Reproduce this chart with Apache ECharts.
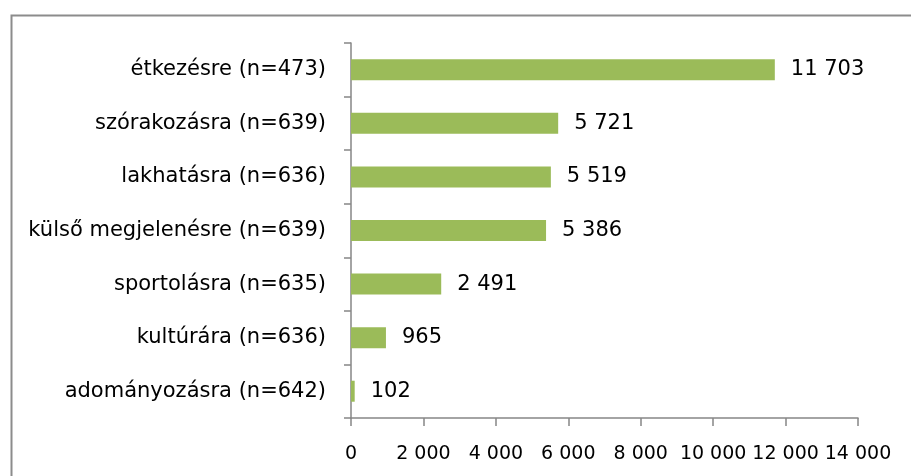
<!DOCTYPE html>
<html>
<head>
<meta charset="utf-8">
<script src="https://cdn.jsdelivr.net/npm/echarts@6/dist/echarts.min.js"></script>
<style>
	html, body { margin: 0; padding: 0; background: #fff; }
	#chart { width: 911px; height: 476px; }
</style>
</head>
<body>
<div id="chart"></div>
<script>
	'use strict';

	// kategóriák felülről lefelé
	var categories = [
		'étkezésre (n=473)',
		'szórakozásra (n=639)',
		'lakhatásra (n=636)',
		'külső megjelenésre (n=639)',
		'sportolásra (n=635)',
		'kultúrára (n=636)',
		'adományozásra (n=642)'
	];
	var values = [11703, 5721, 5519, 5386, 2491, 965, 102];
	var xTicks = [0, 2000, 4000, 6000, 8000, 10000, 12000, 14000];

	function fmt(v){
		return String(v).replace(/\B(?=(\d{3})+(?!\d))/g, ' ');
	}

	var font = 'DejaVu Sans';
	var axisColor = '#868686';

	var chart = echarts.init(document.getElementById('chart'), null, {renderer: 'canvas'});
	chart.setOption({
		animation: false,
		backgroundColor: '#fff',
		textStyle: {fontFamily: font},
		grid: {left: 351, right: 53, top: 43, bottom: 58, containLabel: false},
		graphic: [{
			type: 'rect',
			left: 9, top: 13,
			shape: {width: 940, height: 500},
			style: {fill: 'none', stroke: '#8c8c8c', lineWidth: 2},
			silent: true
		}],
		xAxis: {
			type: 'value',
			min: xTicks[0],
			max: xTicks[xTicks.length - 1],
			interval: xTicks[1] - xTicks[0],
			axisLine: {show: true, lineStyle: {color: axisColor, width: 1.5}},
			axisTick: {show: true, length: 8, lineStyle: {color: axisColor, width: 1.5}},
			splitLine: {show: false},
			axisLabel: {
				margin: 27,
				color: '#000',
				fontFamily: font,
				fontSize: 19,
				formatter: fmt
			}
		},
		yAxis: {
			type: 'category',
			data: categories,
			inverse: true,
			axisLine: {show: true, lineStyle: {color: axisColor, width: 1.5}},
			axisTick: {show: true, length: 7, lineStyle: {color: axisColor, width: 1.5}},
			axisLabel: {
				margin: 25,
				color: '#000',
				fontFamily: font,
				fontSize: 21
			}
		},
		series: [{
			type: 'bar',
			data: values,
			barWidth: 21,
			itemStyle: {color: '#9BBB59'},
			label: {
				show: true,
				position: 'right',
				distance: 16,
				color: '#000',
				fontFamily: font,
				fontSize: 21,
				formatter: function(p){ return fmt(p.value); }
			}
		}]
	});
</script>
</body>
</html>
